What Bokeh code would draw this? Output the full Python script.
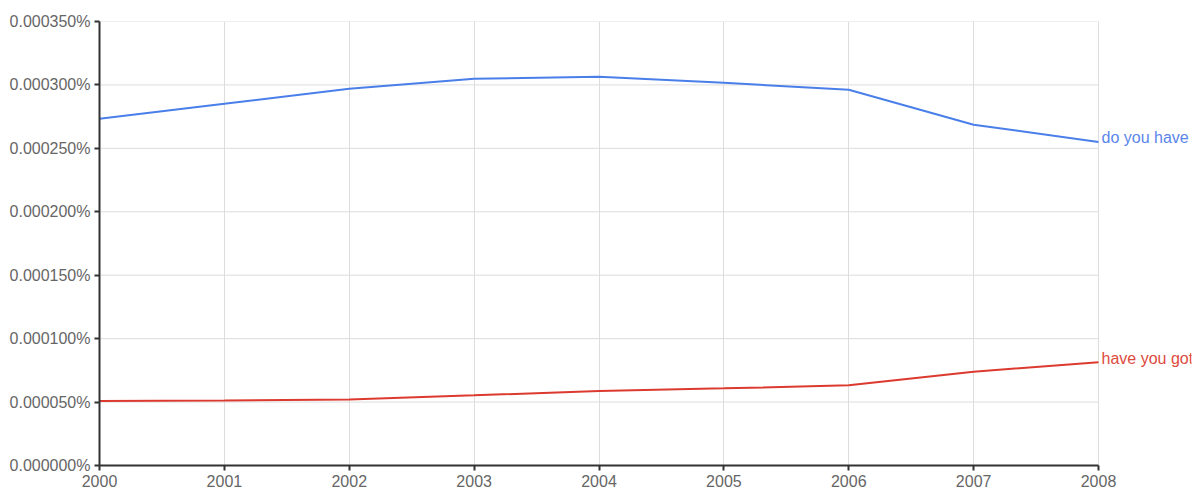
from bokeh.plotting import figure
from bokeh.models import FixedTicker, CustomJSTickFormatter, Range1d
from bokeh.core.properties import value
from bokeh.embed import file_html
from bokeh.resources import INLINE

years = [2000, 2001, 2002, 2003, 2004, 2005, 2006, 2007, 2008]
do_you_have = [0.0002733, 0.0002852, 0.0002970, 0.0003049, 0.0003065, 0.0003017, 0.0002962, 0.0002686, 0.0002551]
have_you_got = [0.0000509, 0.0000513, 0.0000521, 0.0000553, 0.0000588, 0.0000608, 0.0000632, 0.0000739, 0.0000814]
series_names = ["do you have", "have you got"]
y_ticks = [0.0, 0.00005, 0.0001, 0.00015, 0.0002, 0.00025, 0.0003, 0.00035]

BLUE = "#4a7fe9"
RED = "#dc3a2f"
FONT = "Liberation Sans"

# frame spans from 2000 to a bit past 2008 so that series labels are not clipped
LEFT, RIGHT_PAD = 99, 1
W = 1192
frame_w = W - LEFT - RIGHT_PAD
x_end = years[0] + (years[-1] - years[0]) * frame_w / (1098 - LEFT)

p = figure(width=W, height=490, output_backend="svg", toolbar_location=None,
           x_range=Range1d(years[0], x_end), y_range=Range1d(0, y_ticks[-1]),
           min_border_left=LEFT, min_border_right=RIGHT_PAD, min_border_top=21, min_border_bottom=25)
p.outline_line_color = None

# horizontal grid lines limited to the year span
p.segment(x0=[years[0]] * len(y_ticks), y0=y_ticks, x1=[years[-1]] * len(y_ticks), y1=y_ticks,
          line_color="#dddddd", line_width=1)
p.ygrid.grid_line_color = None
p.xgrid.grid_line_color = "#dddddd"
p.xgrid.grid_line_width = 1

p.line(years, do_you_have, line_color=BLUE, line_width=2)
p.line(years, have_you_got, line_color=RED, line_width=2)

p.text(x=[years[-1], years[-1]], y=[do_you_have[-1], have_you_got[-1]], text=series_names,
       x_offset=3, y_offset=-4, text_baseline="middle", text_align="left",
       text_color=["#5b86ea", "#dd4a3e"], text_font=value(FONT), text_font_size="16px")

p.xaxis.ticker = FixedTicker(ticks=years)
p.xaxis.bounds = (years[0], years[-1])
p.xgrid.ticker = FixedTicker(ticks=years)
p.yaxis.ticker = FixedTicker(ticks=y_ticks)
p.yaxis.formatter = CustomJSTickFormatter(code="return tick.toFixed(6) + '%';")
p.xaxis.formatter = CustomJSTickFormatter(code="return tick.toFixed(0);")

for ax in [p.xaxis[0], p.yaxis[0]]:
    ax.axis_line_color = "#333333"
    ax.axis_line_width = 2
    ax.major_tick_line_color = "#333333"
    ax.major_tick_line_width = 2
    ax.major_tick_out = 5
    ax.major_tick_in = 0
    ax.minor_tick_out = 0
    ax.minor_tick_in = 0
    ax.major_label_text_font = FONT
    ax.major_label_text_font_size = "16px"
    ax.major_label_text_color = "#666666"
    ax.major_label_standoff = 4

open("out.html", "w").write(file_html(p, INLINE))
